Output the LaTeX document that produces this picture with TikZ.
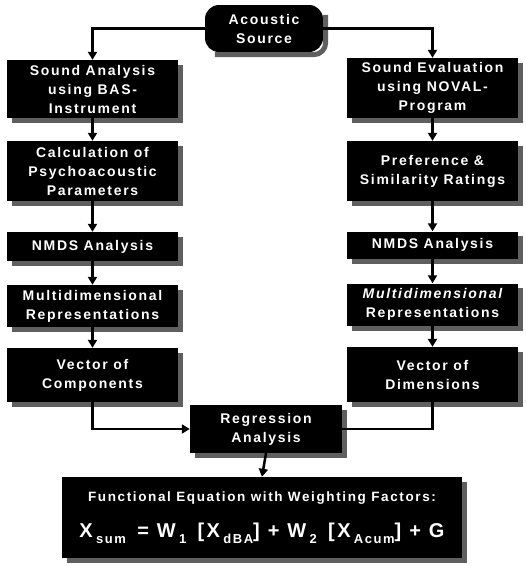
\documentclass[tikz,border=0pt]{standalone}
\usepackage{fontspec}
\newfontfamily\boxfont[LetterSpace=12]{Liberation Sans}
\usetikzlibrary{arrows.meta}

\newcommand{\lowidx}[1]{\raisebox{-0.3em}{\fontsize{13}{13}\selectfont #1}}

\definecolor{shadowgray}{RGB}{95,95,95}
\tikzset{
  proc/.style={fill=black, text=white, align=center, inner sep=0pt,
    minimum width=171pt, font=\boxfont\bfseries\fontsize{14}{19}\selectfont},
  shadowline/.style={draw=shadowgray, line width=5pt},
  flow/.style={line width=2.5pt, -{Triangle[width=9pt,length=8pt]}},
  link/.style={line width=2.5pt},
}

\begin{document}
\begin{tikzpicture}[x=1pt,y=-1pt]
  \useasboundingbox (0,0) rectangle (526,566);

  \node[proc, rounded corners=14pt, minimum width=118pt, minimum height=47pt] (src) at (264,28.5) {Acoustic\\Source};

  \node[proc, minimum height=58pt] (la1) at (92.5,89) {Sound Analysis\\using BAS-\\Instrument};
  \node[proc, minimum height=60pt] (la2) at (92.5,171) {Calculation of\\Psychoacoustic\\Parameters};
  \node[proc, minimum height=29pt] (la3) at (92.5,246.5) {NMDS Analysis};
  \node[proc, minimum height=42pt] (la4) at (92.5,306) {Multidimensional\\Representations};
  \node[proc, minimum height=54pt] (la5) at (92.5,375) {Vector of\\Components};

  \node[proc, minimum height=60pt] (ra1) at (432.5,88) {Sound Evaluation\\using NOVAL-\\Program};
  \node[proc, minimum height=60pt] (ra2) at (432.5,171) {Preference \&\\Similarity Ratings};
  \node[proc, minimum height=27pt] (ra3) at (432.5,245) {NMDS Analysis};
  \node[proc, minimum height=42pt] (ra4) at (432.5,304.5) {\itshape Multidimensional\\Representations};
  \node[proc, minimum height=55pt] (ra5) at (432.5,374.5) {Vector of\\Dimensions};

  \node[proc, minimum width=152pt, minimum height=48pt] (reg) at (266,429) {Regression\\Analysis};
  \node[proc, minimum width=400pt, minimum height=81pt] (eqn) at (262,517.5)
    {{\fontsize{13.5}{15}\selectfont Functional Equation with Weighting Factors:}\\[17pt]
     {\fontsize{20}{22}\selectfont X\,\lowidx{sum}\, = W\,\lowidx{1}\, [X\,\lowidx{dBA}] + W\,\lowidx{2}\, [X\,\lowidx{Acum}] + G}};

  % shadows along right and bottom edges
  \foreach \n in {la1,la2,la3,la4,la5,ra1,ra2,ra3,ra4,ra5,reg,eqn}
    \draw[shadowline] ([shift={(2.5,5)}]\n.north east) |- ([shift={(5,2.5)}]\n.south west);
  \draw[shadowline, rounded corners=12pt] ([shift={(2.5,10)}]src.north east) |- ([shift={(10,2.5)}]src.south west);

  \draw[flow] (src.west) -| (la1.north);
  \draw[flow] (src.east) -| (ra1.north);
  \foreach \a/\b in {la1/la2,la2/la3,la3/la4,la4/la5,ra1/ra2,ra2/ra3,ra3/ra4,ra4/ra5}
    \draw[flow] (\a.south) -- (\b.north);
  \draw[flow] (la5.south) |- (reg.west);
  \draw[link] (ra5.south) |- (reg.east);
  \draw[flow] (reg.south) -- (eqn.north);
\end{tikzpicture}
\end{document}
